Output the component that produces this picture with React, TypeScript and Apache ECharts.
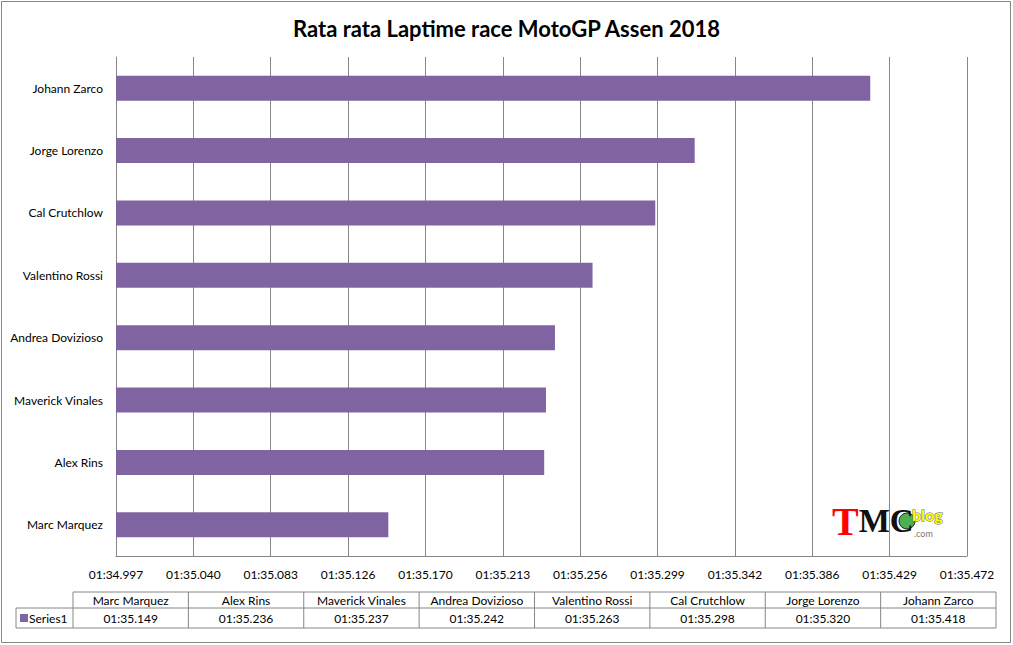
import { useEffect, useRef } from "react";
import * as echarts from "echarts";

// riders, bottom to top (same order as the data table)
const riders = [
  "Marc Marquez",
  "Alex Rins",
  "Maverick Vinales",
  "Andrea Dovizioso",
  "Valentino Rossi",
  "Cal Crutchlow",
  "Jorge Lorenzo",
  "Johann Zarco",
];
// average lap time in seconds (01:35.149 -> 95.149)
const lapTimes = [95.149, 95.236, 95.237, 95.242, 95.263, 95.298, 95.32, 95.418];
const tickLabels = [
  "01:34.997", "01:35.040", "01:35.083", "01:35.126", "01:35.170", "01:35.213",
  "01:35.256", "01:35.299", "01:35.342", "01:35.386", "01:35.429", "01:35.472",
];
const axisMin = 94.997;
const axisMax = 95.472;

const FONT = "Lato, 'Open Sans', sans-serif";
const PURPLE = "#8064A2";
const GREY = "#868686";

function fmt(v: number) {
  const m = Math.floor(v / 60);
  const s = v - m * 60;
  return `${String(m).padStart(2, "0")}:${s.toFixed(3).padStart(6, "0")}`;
}

function buildTable(): any[] {
  const left = 73, right = 996, keyLeft = 16;
  const top = 592, mid = 608, bottom = 628;
  const colW = (right - left) / riders.length;
  const line = (x1: number, y1: number, x2: number, y2: number) => ({
    type: "line", shape: { x1, y1, x2, y2 }, style: { stroke: GREY, lineWidth: 1 }, silent: true,
  });
  const els: any[] = [
    line(left, top, right, top),
    line(keyLeft, mid, right, mid),
    line(keyLeft, bottom, right, bottom),
    line(keyLeft, mid, keyLeft, bottom),
    { type: "rect", shape: { x: 20, y: 614, width: 8, height: 8 }, style: { fill: PURPLE } },
    { type: "text", x: 29, y: (mid + bottom) / 2, style: { text: "Series1", font: `12px ${FONT}`, fill: "#000", verticalAlign: "middle" } },
  ];
  for (let i = 0; i <= riders.length; i++) {
    els.push(line(left + i * colW, top, left + i * colW, bottom));
  }
  riders.forEach((r, i) => {
    const cx = left + (i + 0.5) * colW;
    els.push({ type: "text", x: cx, y: (top + mid) / 2, style: { text: r, font: `12px ${FONT}`, fill: "#000", align: "center", verticalAlign: "middle" } });
    els.push({ type: "text", x: cx, y: (mid + bottom) / 2, style: { text: fmt(lapTimes[i]), font: `12px ${FONT}`, fill: "#000", align: "center", verticalAlign: "middle" } });
  });
  return els;
}

function buildLogo(): any[] {
  return [
    { type: "circle", shape: { cx: 907, cy: 521, r: 8 }, style: { fill: "#4caf50", stroke: "#222", lineWidth: 1 } },
    {
      type: "text", x: 832, y: 521,
      style: {
        text: "{t|T}{mc|MC}", verticalAlign: "middle",
        rich: {
          t: { font: `bold 40px 'Liberation Serif', serif`, fill: "#ff0000" },
          mc: { font: `bold 33px 'Liberation Serif', serif`, fill: "#111" },
        },
      },
    },
    { type: "text", x: 912, y: 514, style: { text: "blog", font: `bold 16px ${FONT}`, fill: "#ffff00", stroke: "#666", lineWidth: 1, verticalAlign: "middle" } },
    { type: "text", x: 914, y: 533, style: { text: ".com", font: `9px ${FONT}`, fill: "#777", verticalAlign: "middle" } },
  ];
}

export default function App() {
  const el = useRef<HTMLDivElement>(null);

  useEffect(() => {
    document.body.style.margin = "0";
    if (!el.current) return;
    const chart = echarts.init(el.current, undefined, { renderer: "svg" });
    chart.setOption({
      animation: false,
      backgroundColor: "#fff",
      title: {
        text: "Rata rata Laptime race MotoGP Assen 2018",
        left: "center",
        top: 12,
        textStyle: { fontFamily: FONT, fontSize: 22, fontWeight: "bold", color: "#000" },
      },
      grid: { left: 116, right: 46, top: 57, bottom: 89 },
      xAxis: {
        type: "value",
        min: axisMin,
        max: axisMax,
        interval: (axisMax - axisMin) / (tickLabels.length - 1),
        axisLine: { show: true, lineStyle: { color: GREY } },
        axisTick: { show: false },
        splitLine: { show: true, lineStyle: { color: GREY, width: 1 } },
        axisLabel: {
          margin: 12,
          fontFamily: FONT,
          fontSize: 12,
          color: "#000",
          formatter: (_v: number, i: number) => tickLabels[i] ?? "",
        },
      },
      yAxis: {
        type: "category",
        data: riders,
        axisLine: { show: true, lineStyle: { color: GREY } },
        axisTick: { show: false },
        axisLabel: { margin: 13, fontFamily: FONT, fontSize: 12, color: "#000" },
      },
      series: [
        {
          type: "bar",
          data: lapTimes,
          barWidth: "40%",
          itemStyle: { color: PURPLE },
        },
      ],
      graphic: [
        { type: "rect", shape: { x: 1.5, y: 1.5, width: 1009, height: 641 }, style: { fill: "none", stroke: GREY, lineWidth: 1 }, silent: true, z: 100 },
        ...buildTable(),
        ...buildLogo(),
      ],
    });
    return () => chart.dispose();
  }, []);

  return <div ref={el} style={{ width: 1013, height: 645 }} />;
}
